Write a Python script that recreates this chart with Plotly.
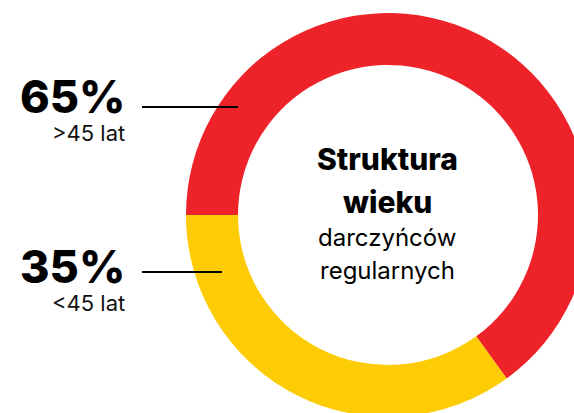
import plotly.graph_objects as go

# Data
age_groups = [">45 lat", "<45 lat"]
shares = [65, 35]
share_labels = ["65%", "35%"]
title_bold = ["Struktura", "wieku"]
title_regular = ["darczyńców", "regularnych"]
colors = ["#EE2229", "#FECC04"]

# Canvas larger than window so the donut is cropped right/bottom like the reference
W, H = 590, 417
CX, CY, R = 388, 215, 202


def px(x):
    return x / W


def py(y):
    return 1 - y / H


fig = go.Figure()
fig.add_trace(go.Pie(
    labels=age_groups,
    values=shares,
    hole=150 / 202,
    sort=False,
    direction="clockwise",
    rotation=270,
    marker=dict(colors=colors, line=dict(width=0)),
    textinfo="none",
    hoverinfo="label+percent",
    showlegend=False,
    domain=dict(x=[px(CX - R), px(CX + R)], y=[py(CY + R), py(CY - R)]),
))

FONT = "Inter"
ann = []
# left labels
big_y = [96, 266]
small_y = [133, 303]
line_y = [107, 272]
line_x_end = [238, 222]
for i in range(2):
    ann.append(dict(text=share_labels[i], x=px(127), y=py(big_y[i]), xref="paper", yref="paper",
                    xanchor="right", yanchor="middle", showarrow=False, height=46,
                    font=dict(family=FONT, size=45, color="#000000", weight=800)))
    ann.append(dict(text=age_groups[i], x=px(127), y=py(small_y[i]), xref="paper", yref="paper",
                    xanchor="right", yanchor="middle", showarrow=False, height=24,
                    font=dict(family=FONT, size=22, color="#111111")))
    fig.add_shape(type="line", xref="paper", yref="paper",
                  x0=px(142), x1=px(line_x_end[i]), y0=py(line_y[i]), y1=py(line_y[i]),
                  line=dict(color="#000000", width=2))

# center title
center_y = [159, 202, 237, 270]
for j, t in enumerate(title_bold + title_regular):
    bold = j < 2
    ann.append(dict(text=t, x=px(387), y=py(center_y[j]), xref="paper", yref="paper",
                    xanchor="center", yanchor="middle", showarrow=False,
                    font=dict(family=FONT, size=30 if bold else 24, color="#000000",
                              weight=800 if bold else 400)))

fig.update_layout(
    width=W, height=H,
    margin=dict(l=0, r=0, t=0, b=0),
    paper_bgcolor="white", plot_bgcolor="white",
    annotations=ann,
)

fig.write_html("out.html", config={"displayModeBar": False},
               post_script="document.body.style.margin='0';document.body.style.overflow='hidden';")
